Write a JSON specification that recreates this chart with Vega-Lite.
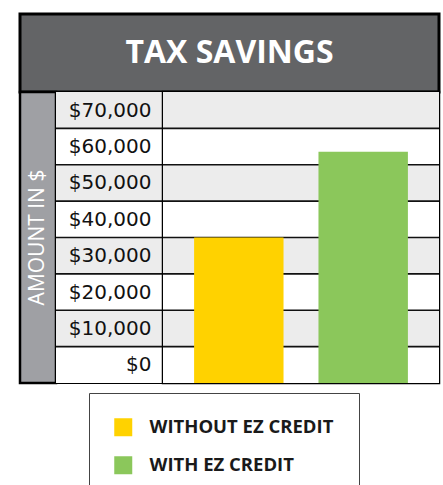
{
  "$schema": "https://vega.github.io/schema/vega-lite/v6.json",
  "padding": {"left": 18, "top": 12, "right": 0, "bottom": 0},
  "background": "white",
  "config": {"view": {"stroke": null}},
  "datasets": {
    "rows": [
      {"lo": 0, "hi": 10000, "stripe": "plain"},
      {"lo": 10000, "hi": 20000, "stripe": "shaded"},
      {"lo": 20000, "hi": 30000, "stripe": "plain"},
      {"lo": 30000, "hi": 40000, "stripe": "shaded"},
      {"lo": 40000, "hi": 50000, "stripe": "plain"},
      {"lo": 50000, "hi": 60000, "stripe": "shaded"},
      {"lo": 60000, "hi": 70000, "stripe": "plain"},
      {"lo": 70000, "hi": 80000, "stripe": "shaded"}
    ],
    "savings": [
      {"scenario": "WITHOUT EZ CREDIT", "amount": 40000},
      {"scenario": "WITH EZ CREDIT", "amount": 63600}
    ],
    "heading": [{"text": "TAX SAVINGS"}],
    "ytitle": [{"text": "AMOUNT IN $"}]
  },
  "spacing": 0,
  "bounds": "flush",
  "vconcat": [
    {
      "width": 419,
      "height": 78,
      "view": {"fill": "#636466", "stroke": "black", "strokeWidth": 3},
      "data": {"name": "heading"},
      "mark": {"type": "text", "font": "Open Sans", "fontWeight": "bold", "fontSize": 32, "color": "white", "baseline": "middle", "align": "center"},
      "encoding": {"text": {"field": "text"}}
    },
    {
      "spacing": 0,
      "bounds": "flush",
      "hconcat": [
        {
          "width": 36,
          "height": 291,
          "view": {"fill": "#9fa0a4", "stroke": "black", "strokeWidth": 2.5},
          "data": {"name": "ytitle"},
          "mark": {"type": "text", "font": "Open Sans", "fontSize": 21, "angle": 270, "color": "white", "baseline": "middle", "align": "center"},
          "encoding": {"text": {"field": "text"}}
        },
        {
          "width": 107,
          "height": 291,
          "view": {"stroke": "black", "strokeWidth": 2},
          "data": {"name": "rows"},
          "layer": [
            {
              "mark": {"type": "rect"},
              "encoding": {
                "y": {"field": "lo", "type": "quantitative", "scale": {"domain": [0, 80000], "nice": false},
                  "axis": {"orient": "right", "offset": -12, "values": [5000, 15000, 25000, 35000, 45000, 55000, 65000, 75000],
                    "labelExpr": "'$' + format(datum.value - 5000, ',')", "domain": false, "ticks": false, "grid": false,
                    "labelAlign": "right", "labelPadding": 0, "labelFont": "DejaVu Sans", "labelFontSize": 20, "labelColor": "#111111",
                    "labelOverlap": false, "title": null, "zindex": 2}},
                "y2": {"field": "hi"},
                "fill": {"field": "stripe", "type": "nominal", "scale": {"domain": ["plain", "shaded"], "range": ["#ffffff", "#ececec"]}, "legend": null}
              }
            },
            {
              "transform": [{"filter": "datum.lo > 0"}],
              "mark": {"type": "rule", "color": "#111111", "strokeWidth": 1.6},
              "encoding": {"y": {"field": "lo", "type": "quantitative"}}
            }
          ]
        },
        {
          "width": 276,
          "height": 291,
          "view": {"stroke": "black", "strokeWidth": 2.5},
          "layer": [
            {
              "data": {"name": "rows"},
              "mark": {"type": "rect"},
              "encoding": {
                "y": {"field": "lo", "type": "quantitative", "scale": {"domain": [0, 80000], "nice": false}, "axis": null},
                "y2": {"field": "hi"},
                "fill": {"field": "stripe", "type": "nominal", "scale": {"domain": ["plain", "shaded"], "range": ["#ffffff", "#ececec"]}, "legend": null}
              }
            },
            {
              "data": {"name": "rows"},
              "transform": [{"filter": "datum.lo > 0"}],
              "mark": {"type": "rule", "color": "#111111", "strokeWidth": 1.6},
              "encoding": {"y": {"field": "lo", "type": "quantitative"}}
            },
            {
              "data": {"name": "savings"},
              "mark": {"type": "bar", "opacity": 1},
              "encoding": {
                "x": {"field": "scenario", "type": "nominal", "sort": null, "scale": {"paddingInner": 0.281, "paddingOuter": 0.25}, "axis": null},
                "y": {"field": "amount", "type": "quantitative"},
                "color": {"field": "scenario", "type": "nominal", "sort": null,
                  "scale": {"domain": ["WITHOUT EZ CREDIT", "WITH EZ CREDIT"], "range": ["#ffd200", "#8bc75b"]},
                  "legend": {"orient": "none", "legendX": 69, "legendY": 379, "title": null, "symbolType": "square", "symbolSize": 324,
                    "symbolOpacity": 1, "symbolStrokeWidth": 0, "labelFont": "Open Sans", "labelFontWeight": "bold", "labelFontSize": 18.5,
                    "labelColor": "#1a1a1a", "labelOffset": 17, "rowPadding": 19, "padding": 25, "strokeColor": "#444444", "fillColor": "white", "labelLimit": 300}
                }
              }
            }
          ]
        }
      ]
    }
  ]
}
